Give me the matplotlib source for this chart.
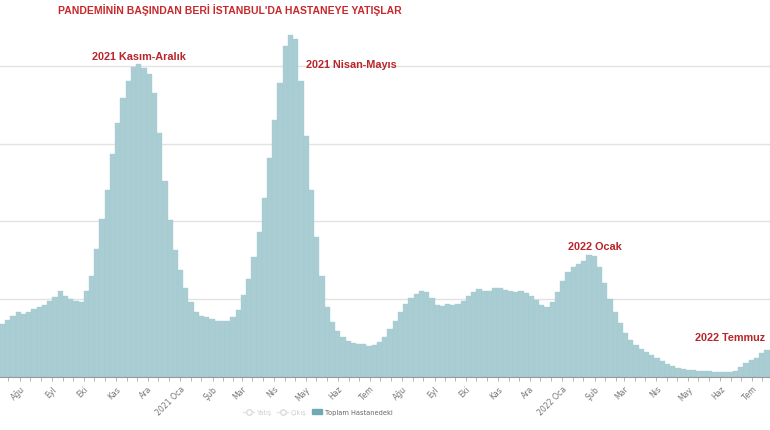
import matplotlib
matplotlib.use("Agg")
import matplotlib.pyplot as plt
import matplotlib.dates as mdates
from matplotlib.lines import Line2D
from matplotlib.patches import Patch
import pandas as pd
import numpy as np

# ---- data (one value every 5 days) ----
start_date = "2020-07-13"
step_days = 5
toplam_hastanedeki = [
    680, 730, 790, 830, 815, 835, 880, 905, 930, 975,
    1030, 1100, 1045, 1000, 980, 965, 1110, 1300, 1640, 2030,
    2400, 2870, 3260, 3590, 3810, 3990, 4020, 3970, 3890, 3650,
    3130, 2520, 2020, 1630, 1370, 1140, 960, 830, 790, 775,
    750, 725, 720, 720, 770, 860, 1060, 1260, 1540, 1860,
    2300, 2820, 3300, 3780, 4250, 4400, 4350, 3800, 3100, 2400,
    1800, 1300, 900, 710, 590, 510, 460, 435, 425, 420,
    400, 415, 455, 520, 620, 725, 840, 940, 1015, 1070,
    1100, 1095, 1020, 930, 915, 935, 930, 940, 980, 1045,
    1090, 1125, 1105, 1110, 1140, 1150, 1120, 1100, 1090, 1100,
    1085, 1045, 985, 925, 905, 960, 1090, 1240, 1345, 1410,
    1450, 1490, 1570, 1560, 1420, 1210, 1000, 830, 690, 570,
    480, 415, 355, 325, 285, 240, 200, 170, 145, 118,
    105, 90, 90, 80, 80, 75, 65, 60, 60, 62,
    80, 125, 180, 222, 245, 310, 350, 330,
]
month_labels = ["Ağu", "Eyl", "Eki", "Kas", "Ara", "2021 Oca", "Şub", "Mar", "Nis",
                "May", "Haz", "Tem", "Ağu", "Eyl", "Eki", "Kas", "Ara", "2022 Oca",
                "Şub", "Mar", "Nis", "May", "Haz", "Tem"]
month_starts = pd.date_range("2020-08-01", periods=len(month_labels), freq="MS")
title = "PANDEMİNİN BAŞINDAN BERİ İSTANBUL'DA HASTANEYE YATIŞLAR"
annotations = [
    ("2021 Kasım-Aralık", "2020-11-23", 4126, "center"),
    ("2021 Nisan-Mayıs", "2021-06-14", 4023, "center"),
    ("2022 Ocak", "2022-02-01", 1684, "center"),
    ("2022 Temmuz", "2022-07-14", 514, "right"),
]
legend_labels = ["Yatış", "Çıkış", "Toplam Hastanedeki"]

dates = pd.date_range(start_date, periods=len(toplam_hastanedeki), freq=f"{step_days}D")

# ---- figure ----
W, H = 770, 431
fig = plt.figure(figsize=(W / 100, H / 100), dpi=100)
base_px = 378
ax = fig.add_axes([0, 1 - base_px / H, 1, base_px / H])

bar_color = "#a9cdd3"
ax.bar(dates, toplam_hastanedeki, width=step_days, align="edge",
       color=bar_color, edgecolor="#a2c8ce", linewidth=0.25, zorder=2)

x0 = pd.Timestamp(start_date)
ax.set_xlim(x0, x0 + pd.Timedelta(days=735.4))
ax.set_ylim(0, base_px / 0.0778)

ax.set_yticks([1000, 2000, 3000, 4000])
ax.yaxis.grid(True, color="#e2e2e2", linewidth=1.0, zorder=0)
ax.tick_params(axis="y", left=False, labelleft=False)

ax.set_xticks(month_starts)
ax.set_xticklabels(month_labels, rotation=45, ha="right", va="top",
                   rotation_mode="anchor", fontsize=5.6, color="#777777")
ax.xaxis.set_minor_locator(mdates.DayLocator(bymonthday=[11, 21]))
ax.tick_params(axis="x", which="both", length=3, color="#aaaaaa", width=0.6, pad=2)

for s in ["top", "left"]:
    ax.spines[s].set_visible(False)
ax.spines["right"].set_color("#cccccc")
ax.spines["right"].set_linewidth(0.8)
ax.spines["bottom"].set_color("#999999")
ax.spines["bottom"].set_linewidth(0.8)

red = "#b8262b"
for text, d, v, ha in annotations:
    ax.text(pd.Timestamp(d), v, text, ha=ha, va="center",
            fontsize=7.8, fontweight="bold", color=red,
            family="Liberation Sans", zorder=5)

fig.text(230 / W, 1 - 10 / H, title, ha="center", va="center",
         fontsize=7.5, fontweight="bold", color="#c8282c", family="Liberation Sans")

handles = [
    Line2D([0], [0], color="#e4e4e4", marker="o", markerfacecolor="white",
           markeredgecolor="#dcdcdc", markersize=4, linewidth=1),
    Line2D([0], [0], color="#e4e4e4", marker="o", markerfacecolor="white",
           markeredgecolor="#dcdcdc", markersize=4, linewidth=1),
    Patch(facecolor="#6fa9b3", edgecolor="#6fa9b3"),
]
leg = fig.legend(handles, legend_labels, loc="center", bbox_to_anchor=(318 / W, 1 - 413 / H),
                 ncol=3, frameon=False, fontsize=4.8, handlelength=1.6, handleheight=0.8,
                 columnspacing=0.8, handletextpad=0.4,
                 labelcolor=["#cfcfcf", "#cfcfcf", "#666666"])

fig.savefig("out.png", dpi=100)
